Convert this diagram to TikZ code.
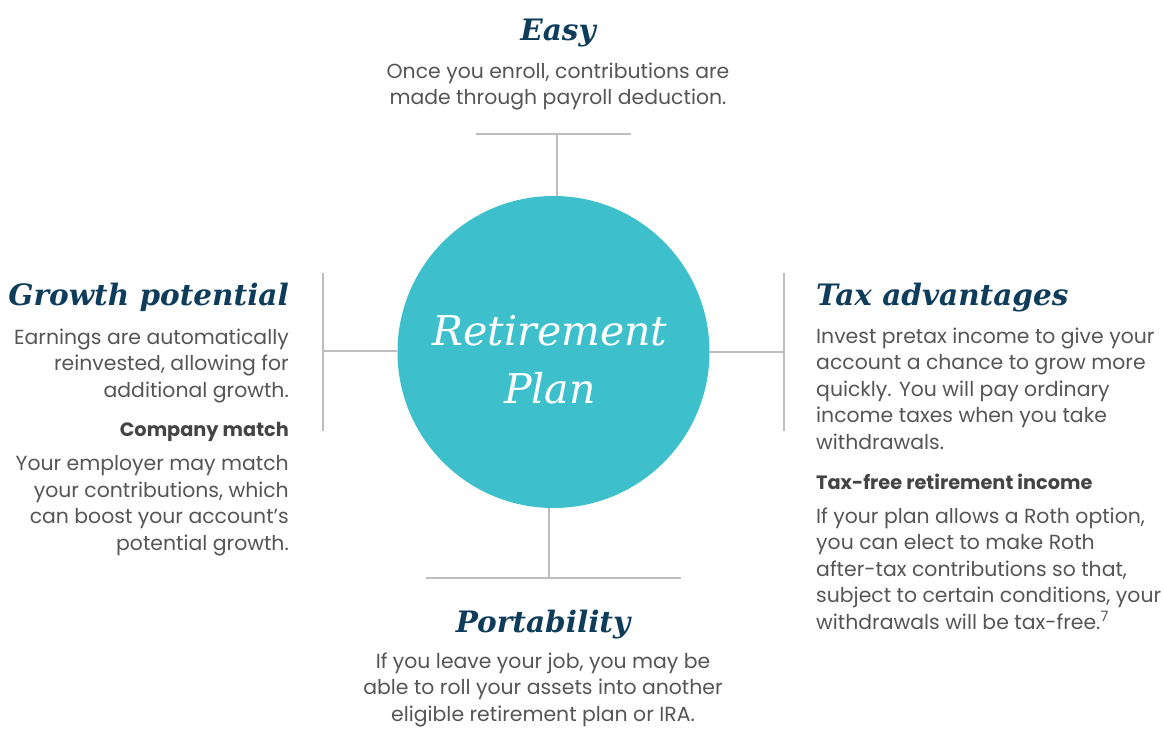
\documentclass[tikz,border=0pt]{standalone}
\usepackage{fontspec}
\setmainfont{Poppins}
\newfontfamily\titlefont{DejaVu Serif}
\definecolor{plancol}{HTML}{3EC0CC}
\definecolor{headcol}{HTML}{0E3D5C}
\definecolor{bodycol}{HTML}{555555}
\definecolor{subcol}{HTML}{444444}
\definecolor{barcol}{HTML}{BDBDC2}

\begin{document}
\begin{tikzpicture}[x=1pt,y=-1pt,
  bar/.style={draw=barcol,line width=1.6pt},
  plan node/.style={circle,fill=plancol,minimum size=312pt,inner sep=0pt},
  plan text/.style={text=white,inner sep=0pt,anchor=base,align=center,
    font=\titlefont\itshape\fontsize{41}{58}\selectfont},
  head/.style={text=headcol,inner sep=0pt,anchor=base,
    font=\titlefont\bfseries\itshape\fontsize{29.5}{34}\selectfont},
  body/.style={text=bodycol,inner sep=0pt,anchor=base,
    font=\fontsize{20.4}{26.5}\selectfont},
  sub/.style={text=subcol,inner sep=0pt,anchor=base,
    font=\bfseries\fontsize{19.3}{26.5}\selectfont}]

  \useasboundingbox (0,0) rectangle (1164,728);

  % centre (multi-line nodes sit on their last baseline)
  \node[plan node] (plan) at (553.5,352) {};
  \node[plan text] (plantext) at (550,403) {Retirement\\Plan};

  % top
  \node[head] (easy) at (558,40) {Easy};
  \node[body,align=center] (easytxt) at (558,104.5)
    {Once you enroll, contributions are\\made through payroll deduction.};

  % left
  \node[head,anchor=base east] (growth) at (289,305) {Growth potential};
  \node[body,align=right,anchor=base east] (growthtxt) at (289,397)
    {Earnings are automatically\\reinvested, allowing for\\additional growth.};
  \node[sub,anchor=base east] (match) at (289,436) {Company match};
  \node[body,align=right,anchor=base east] (matchtxt) at (289,550)
    {Your employer may match\\your contributions, which\\can boost your account’s\\potential growth.};

  % right
  \node[head,anchor=base west] (tax) at (816,305) {Tax advantages};
  \node[body,align=left,anchor=base west] (taxtxt) at (816,449)
    {Invest pretax income to give your\\account a chance to grow more\\quickly. You will pay ordinary\\income taxes when you take\\withdrawals.};
  \node[sub,anchor=base west] (taxfree) at (816,489) {Tax-free retirement income};
  \node[body,align=left,anchor=base west] (taxfreetxt) at (816,629)
    {If your plan allows a Roth option,\\you can elect to make Roth\\after-tax contributions so that,\\subject to certain conditions, your\\withdrawals will be tax-free.\textsuperscript{7}};

  % bottom
  \node[head] (port) at (543,632) {Portability};
  \node[body,align=center] (porttxt) at (543,721)
    {If you leave your job, you may be\\able to roll your assets into another\\eligible retirement plan or IRA.};

  \coordinate (easyL) at (476,134);
  \coordinate (easyR) at (631,134);
  \coordinate (easyM) at (557,134);
  \coordinate (growthT) at (323,273);
  \coordinate (growthB) at (323,431);
  \coordinate (growthM) at (323,351);
  \coordinate (taxT) at (784,273);
  \coordinate (taxB) at (784,431);
  \coordinate (taxM) at (784,352);
  \coordinate (portL) at (426,578);
  \coordinate (portR) at (681,578);
  \coordinate (portM) at (549,578);

  \path[bar]
    (easyL) edge (easyR)
    (easyM) edge (easyM |- plan.north)
    (growthT) edge (growthB)
    (growthM) edge (growthM -| plan.west)
    (taxT) edge (taxB)
    (taxM) edge (taxM -| plan.east)
    (portL) edge (portR)
    (portM) edge (portM |- plan.south);

\end{tikzpicture}
\end{document}
